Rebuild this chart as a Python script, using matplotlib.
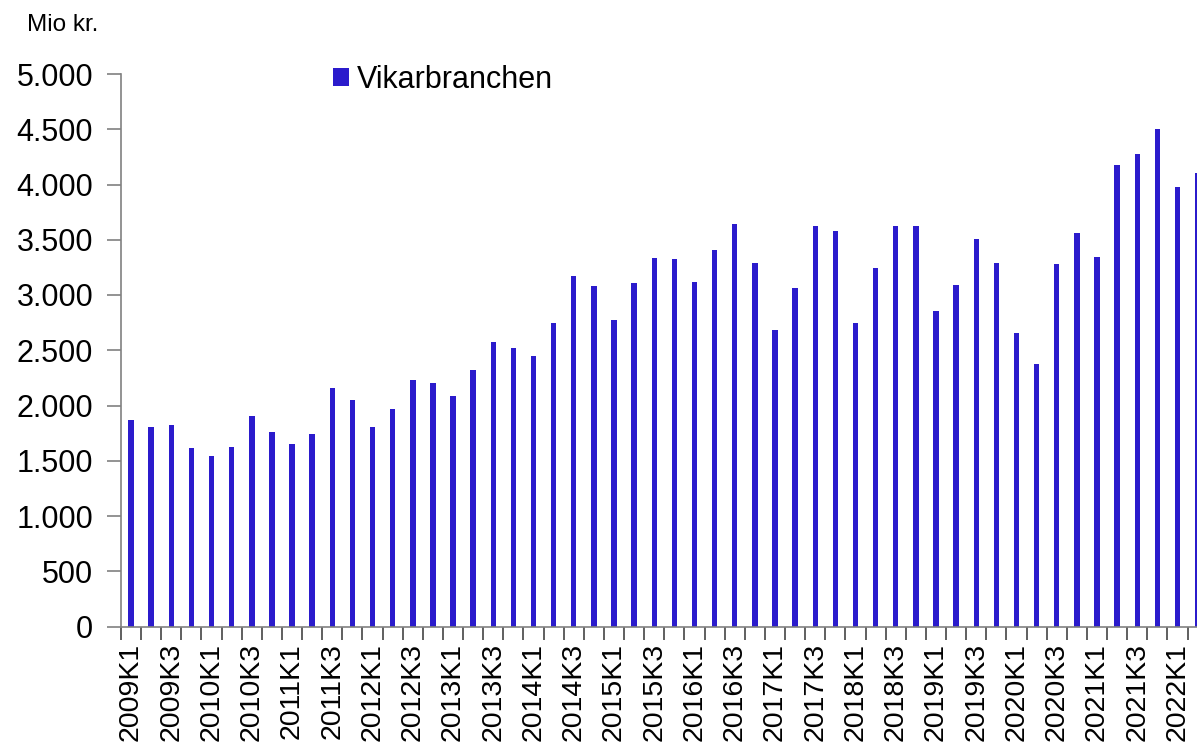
import numpy as np
import matplotlib.pyplot as plt

plt.rcParams['font.family'] = ['Liberation Sans', 'DejaVu Sans']

# Quarterly data, 2009K1 - 2022K2 (Mio kr.)
quarters = [f"{y}K{q}" for y in range(2009, 2023) for q in range(1, 5)][:54]
values = [
    1869, 1803, 1821, 1613, 1540, 1624, 1905, 1757, 1652, 1739,
    2161, 2050, 1803, 1966, 2231, 2204, 2083, 2319, 2572, 2518,
    2445, 2747, 3175, 3082, 2774, 3109, 3338, 3323, 3115, 3403,
    3640, 3288, 2681, 3061, 3622, 3580, 2744, 3242, 3622, 3625,
    2857, 3086, 3505, 3289, 2657, 2377, 3283, 3559, 3343, 4178,
    4273, 4498, 3977, 4104,
]
series_name = "Vikarbranchen"
y_ticks = [0, 500, 1000, 1500, 2000, 2500, 3000, 3500, 4000, 4500, 5000]

bar_color = '#2b1bcc'
axis_color = '#808080'

fig = plt.figure(figsize=(11.97, 7.49), dpi=100)
ax = fig.add_axes([121 / 1197, 122.5 / 749, 1 - 121 / 1197, 552.5 / 749])

x = np.arange(len(values))
ax.bar(x, values, width=0.27, color=bar_color, label=series_name)

ax.set_yticks(y_ticks)
ax.set_yticklabels([f"{v:,}".replace(",", ".") for v in y_ticks])
ax.tick_params(axis='y', length=10, width=1.2, color=axis_color, pad=10,
               labelsize=22)

# ticks at the quarter boundaries, labels every second quarter
ax.set_xticks(np.arange(len(values) + 1) - 0.5)
ax.set_xticklabels([])
ax.tick_params(axis='x', which='major', length=9, width=1.2, color='#444444')
ax.set_xticks(x[::2], minor=True)
ax.set_xticklabels(quarters[::2], minor=True, rotation=90, fontsize=20.5)
ax.tick_params(axis='x', which='minor', length=0, pad=12)

# limits after the ticks so they are not widened
ax.set_ylim(0, 5000)
ax.set_xlim(-0.5, 52.97)

for side in ['top', 'right']:
    ax.spines[side].set_visible(False)
for side in ['left', 'bottom']:
    ax.spines[side].set_color(axis_color)
    ax.spines[side].set_linewidth(1.2)

fig.text(27 / 1197, 1 - 25 / 749, "Mio kr.", fontsize=17.5, ha='left', va='center')

fig.legend(loc='center left', bbox_to_anchor=(333 / 1197, 1 - 80 / 749),
           frameon=False, fontsize=22, handlelength=0.52, handleheight=0.52,
           handletextpad=0.25, borderpad=0, borderaxespad=0)

fig.savefig('out.png', dpi=100)
